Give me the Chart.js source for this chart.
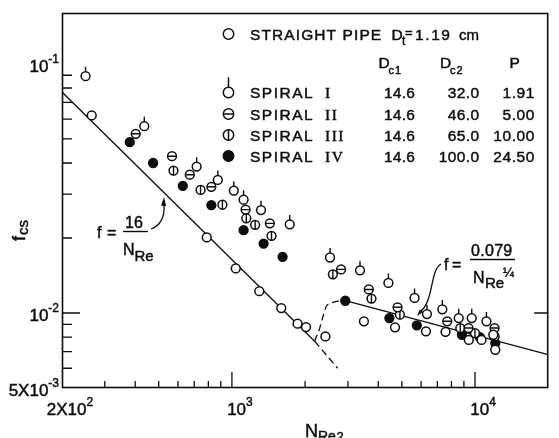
<!DOCTYPE html>
<html>
<head>
<meta charset="utf-8">
<title>Friction factor in spiral coils</title>
<script src="https://cdn.jsdelivr.net/npm/chart.js@4.4.1/dist/chart.umd.min.js"></script>
<style>
  html, body { margin: 0; padding: 0; background: #ffffff; }
  #chart { display: block; }
</style>
</head>
<body>
<canvas id="chart" width="559" height="438"></canvas>
<script>
// Fanning friction factor f_cs against Reynolds number N_Re2 (log-log)

// Straight pipe, D_t = 1.19 cm
const straightRe = [265, 788, 1037, 1296, 1596, 1862, 2018, 2424, 3491, 4688, 6284, 7565, 9428, 10636, 11891, 12116];
const straightF  = [0.0621, 0.0201, 0.0151, 0.01224, 0.01047, 0.00906, 0.00878, 0.00805, 0.00926, 0.00876, 0.00844, 0.0084, 0.0078, 0.0078, 0.00818, 0.00712];

// Spiral I  (Dc1 14.6, Dc2 32.0, P 1.91)
const spiral1Re = [250, 436, 716, 875, 1018, 1117, 1317, 1729, 2533, 3364, 4403, 5641, 6342, 7337, 8568, 9694, 11143];
const spiral1F  = [0.0892, 0.0562, 0.0387, 0.0342, 0.031, 0.0285, 0.0259, 0.0227, 0.0167, 0.01483, 0.0132, 0.0115, 0.0099, 0.01035, 0.00954, 0.00954, 0.00926];

// Spiral II (Dc1 14.6, Dc2 46.0, P 5.00)
const spiral2Re = [402, 567, 671, 823, 1138, 1432, 2812, 3657, 4801, 7686, 9402, 12035];
const spiral2F  = [0.0524, 0.0426, 0.0359, 0.0321, 0.026, 0.0229, 0.01496, 0.01243, 0.01054, 0.00926, 0.0087, 0.0087];

// Spiral III (Dc1 14.6, Dc2 65.0, P 10.00)
const spiral3Re = [575, 743, 914, 1146, 1246, 1455, 2601, 3750, 4909, 8695, 9995, 12035];
const spiral3F  = [0.0373, 0.0312, 0.0272, 0.024, 0.0226, 0.0204, 0.01429, 0.01143, 0.00985, 0.0087, 0.0083, 0.00805];

// Spiral IV (Dc1 14.6, Dc2 100.0, P 24.50)
const spiral4Re = [380, 474, 628, 823, 1117, 1350, 1616, 2926, 4444, 5763, 8835, 10471, 12116];
const spiral4F  = [0.0485, 0.04, 0.0324, 0.0271, 0.0215, 0.019, 0.0168, 0.0112, 0.00954, 0.00892, 0.00818, 0.008, 0.00757];

// Correlation lines: laminar f = 16/N_Re, turbulent f = 0.079/N_Re^(1/4)
const laminarRe = [200, 2190];
const laminarF  = [0.0771, 0.0077];
const laminarExtRe = [2190, 2724];
const laminarExtF  = [0.0077, 0.0060];
const transitionRe = [2190, 2229, 2262, 2371, 2447, 2563, 2724, 2926];
const transitionF  = [0.0077, 0.00806, 0.0083, 0.0097, 0.01064, 0.01097, 0.01115, 0.0112];
const turbulentRe = [2926, 20000];
const turbulentF  = [0.0112, 0.0068];

// Axis ticks and labels
const xMinorTicks = [300, 400, 500, 600, 700, 800, 900, 2000, 3000, 4000, 5000, 6000, 7000, 8000, 9000];
const xMajorTicks = [1000, 10000];
const yMinorTicks = [0.006, 0.007, 0.008, 0.009, 0.02, 0.03, 0.04, 0.05, 0.06, 0.07, 0.08, 0.09];
const yMajorTicks = [0.01];
const xLabelValues = [200, 1000, 10000];
const xLabelBases  = ['2X10', '10', '10'];
const xLabelExps   = ['2', '3', '4'];
const yLabelValues = [0.1, 0.01, 0.005];
const yLabelBases  = ['10', '10', '5X10'];
const yLabelExps   = ['-1', '-2', '-3'];

// Legend table
const legendNumerals = ['I', 'II', 'III', 'IV'];
const legendDc1 = ['14.6', '14.6', '14.6', '14.6'];
const legendDc2 = ['32.0', '46.0', '65.0', '100.0'];
const legendP   = ['1.91', '5.00', '10.00', '24.50'];

const INK = '#0d0d0d';
const SANS = '"Liberation Sans", Arial, sans-serif';
const SERIF = '"Liberation Serif", "Times New Roman", serif';
const R = 4.4;

function pts(xs, ys) { return xs.map((x, i) => ({ x: x, y: ys[i] })); }

// Open or filled circle marks
function circleSet(label, xs, ys, filled) {
  return {
    label: label, data: pts(xs, ys), showLine: false,
    pointStyle: 'circle', pointRadius: R, pointHoverRadius: R,
    pointBorderWidth: 1.5, pointBorderColor: INK,
    pointBackgroundColor: filled ? INK : '#ffffff'
  };
}

// Stroke-only overlays: a bar through the circle or a tick above it
function strokeSet(label, xs, ys, style, radius, rotation) {
  return {
    label: label, data: pts(xs, ys), showLine: false,
    pointStyle: style, pointRadius: radius, pointHoverRadius: radius,
    pointRotation: rotation, pointBorderWidth: 1.4, pointBorderColor: INK,
    pointBackgroundColor: 'rgba(0,0,0,0)'
  };
}

function lineSet(label, xs, ys, dashed, smooth) {
  return {
    label: label, data: pts(xs, ys), showLine: true, pointRadius: 0,
    borderColor: INK, borderWidth: 1.3, borderDash: dashed ? [7, 4] : [],
    cubicInterpolationMode: smooth ? 'monotone' : 'default', tension: 0
  };
}

function drawMark(ctx, kind, x, y, r, tickLen) {
  ctx.save();
  ctx.lineWidth = 1.5;
  ctx.strokeStyle = INK;
  if (kind === 'tick') {
    ctx.beginPath(); ctx.moveTo(x, y - r); ctx.lineTo(x, y - r - tickLen); ctx.stroke();
  }
  ctx.fillStyle = kind === 'filled' ? INK : '#ffffff';
  ctx.beginPath(); ctx.arc(x, y, r, 0, Math.PI * 2); ctx.fill(); ctx.stroke();
  ctx.beginPath();
  if (kind === 'hbar') { ctx.moveTo(x - r, y); ctx.lineTo(x + r, y); }
  if (kind === 'vbar') { ctx.moveTo(x, y - r); ctx.lineTo(x, y + r); }
  ctx.stroke();
  ctx.restore();
}

// Text with a hairline outline so the glyphs carry the weight of printed lettering
function txt(ctx, s, x, y, font, align, spacing) {
  ctx.font = font;
  ctx.textAlign = align || 'left';
  ctx.textBaseline = 'alphabetic';
  ctx.letterSpacing = (spacing || 0) + 'px';
  ctx.fillText(s, x, y);
  ctx.lineWidth = 0.45;
  ctx.strokeText(s, x, y);
  ctx.letterSpacing = '0px';
}

function textWidth(ctx, s, font, spacing) {
  ctx.font = font;
  ctx.letterSpacing = (spacing || 0) + 'px';
  const w = ctx.measureText(s).width;
  ctx.letterSpacing = '0px';
  return w;
}

function powLabel(ctx, base, exp, x, y, anchor) {
  const fb = '17px ' + SANS, fe = '12px ' + SANS;
  const wb = textWidth(ctx, base, fb), we = textWidth(ctx, exp, fe);
  const total = wb + we;
  const left = anchor === 'right' ? x - total : anchor === 'center' ? x - total / 2 : x;
  txt(ctx, base, left, y, fb);
  txt(ctx, exp, left + wb, y - 9, fe);
}

function arrowHead(ctx, tipX, tipY, angle, len, wid) {
  ctx.save();
  ctx.translate(tipX, tipY);
  ctx.rotate(angle);
  ctx.beginPath();
  ctx.moveTo(0, 0);
  ctx.lineTo(-len, -wid / 2);
  ctx.lineTo(-len, wid / 2);
  ctx.closePath();
  ctx.fill();
  ctx.restore();
}

const paperAxes = {
  id: 'paperAxes',
  beforeDatasetsDraw(chart) {
    const ctx = chart.ctx, a = chart.chartArea;
    const xs = chart.scales.x, ys = chart.scales.y;
    ctx.save();
    ctx.strokeStyle = INK;
    ctx.lineWidth = 1.6;
    ctx.strokeRect(a.left + 0.5, a.top + 0.5, a.right - a.left - 1, a.bottom - a.top - 1);
    ctx.lineWidth = 1.3;
    ctx.beginPath();
    xMinorTicks.forEach(v => { const px = xs.getPixelForValue(v); ctx.moveTo(px, a.bottom); ctx.lineTo(px, a.bottom - 7); });
    xMajorTicks.forEach(v => { const px = xs.getPixelForValue(v); ctx.moveTo(px, a.bottom); ctx.lineTo(px, a.bottom - 16); });
    yMinorTicks.forEach(v => { const py = ys.getPixelForValue(v); ctx.moveTo(a.left, py); ctx.lineTo(a.left + 10, py); });
    yMajorTicks.forEach(v => {
      const py = ys.getPixelForValue(v);
      ctx.moveTo(a.left, py); ctx.lineTo(a.left + 18, py);
      ctx.moveTo(a.right, py); ctx.lineTo(a.right - 14, py);
    });
    ctx.stroke();
    ctx.restore();
  },
  afterDraw(chart) {
    const ctx = chart.ctx, a = chart.chartArea;
    const xs = chart.scales.x, ys = chart.scales.y;
    ctx.save();
    ctx.fillStyle = INK;
    ctx.strokeStyle = INK;

    // tick labels
    xLabelValues.forEach((v, i) => powLabel(ctx, xLabelBases[i], xLabelExps[i], xs.getPixelForValue(v) + 8, a.bottom + 27, 'center'));
    yLabelValues.forEach((v, i) => powLabel(ctx, yLabelBases[i], yLabelExps[i], a.left - 3, ys.getPixelForValue(v) + 8, 'right'));

    // axis titles
    txt(ctx, 'N', 305, 437, '18px ' + SANS);
    txt(ctx, 'Re', 318, 441, '14px ' + SANS);
    txt(ctx, '2', 336.5, 441, '13px ' + SANS);
    ctx.save();
    ctx.translate(25, 241);
    ctx.rotate(-Math.PI / 2);
    txt(ctx, 'f', 0, 0, '18px ' + SANS);
    txt(ctx, 'cs', 6, 3, '15px ' + SANS);
    ctx.restore();

    // legend
    drawMark(ctx, 'open', 228.5, 34, 5.2, 0);
    ctx.fillStyle = INK; ctx.strokeStyle = INK;
    txt(ctx, 'STRAIGHT PIPE', 250, 39.5, '15.5px ' + SANS, 'left', 1.1);
    txt(ctx, 'D', 391.5, 39.5, '15.5px ' + SANS);
    txt(ctx, 't', 402, 45, '12px ' + SANS);
    txt(ctx, '=', 405, 37, '13px ' + SANS);
    txt(ctx, '1.19', 415, 39.5, '15.5px ' + SANS, 'left', 1.6);
    txt(ctx, 'cm', 459, 39.5, '15px ' + SANS);

    txt(ctx, 'D', 378.5, 68, '15.5px ' + SANS);
    txt(ctx, 'c1', 388.5, 74, '11px ' + SANS, 'left', 1);
    txt(ctx, 'D', 440, 68, '15.5px ' + SANS);
    txt(ctx, 'c2', 450, 74, '11px ' + SANS, 'left', 1);
    txt(ctx, 'P', 509.5, 68, '15.5px ' + SANS);

    const legendKinds = ['tick', 'hbar', 'vbar', 'filled'];
    const rowBase = [98, 119.5, 140.5, 161.5];
    rowBase.forEach((b, i) => {
      drawMark(ctx, legendKinds[i], 228.5, b - 5.5, 5.2, 10);
      txt(ctx, 'SPIRAL', 250, b, '15.5px ' + SANS, 'left', 1.5);
      txt(ctx, legendNumerals[i], 325, b, '15.5px ' + SERIF, 'left', 1.5);
      txt(ctx, legendDc1[i], 415, b, '15.5px ' + SANS, 'right', 0.2);
      txt(ctx, legendDc2[i], 479.5, b, '15.5px ' + SANS, 'right', 0.4);
      txt(ctx, legendP[i], 535, b, '15.5px ' + SANS, 'right', 0.6);
    });

    // laminar annotation f = 16 / N_Re
    txt(ctx, 'f', 97, 238, '16px ' + SANS);
    txt(ctx, '=', 107, 238, '16px ' + SANS);
    txt(ctx, '16', 125, 228, '16px ' + SANS);
    ctx.lineWidth = 1.4;
    ctx.beginPath(); ctx.moveTo(123, 231.5); ctx.lineTo(148, 231.5); ctx.stroke();
    txt(ctx, 'N', 123, 255, '16px ' + SANS);
    txt(ctx, 'Re', 134.5, 261, '15px ' + SANS);
    ctx.lineWidth = 1.3;
    ctx.beginPath();
    ctx.moveTo(151, 229);
    ctx.bezierCurveTo(160, 226, 165, 217, 164, 205);
    ctx.stroke();
    arrowHead(ctx, 164, 197, -Math.PI / 2 + 0.05, 9, 5);

    // turbulent annotation f = 0.079 / N_Re^(1/4)
    txt(ctx, 'f', 444, 270, '16px ' + SANS);
    txt(ctx, '=', 452, 270, '16px ' + SANS);
    txt(ctx, '0.079', 471, 256, '16px ' + SANS, 'left', 0.3);
    ctx.lineWidth = 1.4;
    ctx.beginPath(); ctx.moveTo(470, 259.5); ctx.lineTo(515, 259.5); ctx.stroke();
    txt(ctx, 'N', 473, 283, '16px ' + SANS);
    txt(ctx, 'Re', 485, 288, '15px ' + SANS);
    txt(ctx, '\u00BC', 503, 277, '13px ' + SANS);
    ctx.lineWidth = 1.3;
    ctx.beginPath();
    ctx.moveTo(441, 264);
    ctx.bezierCurveTo(430, 270, 434, 300, 421, 311);
    ctx.stroke();
    arrowHead(ctx, 417, 316, Math.PI * 0.72, 7, 4);

    ctx.restore();
  }
};

new Chart(document.getElementById('chart'), {
  type: 'scatter',
  data: {
    // the first dataset is painted last, so marks are listed top layer first
    datasets: [
      circleSet('Straight pipe', straightRe, straightF, false),
      circleSet('Spiral I', spiral1Re, spiral1F, false),
      strokeSet('Spiral II bar', spiral2Re, spiral2F, 'line', R, 0),
      circleSet('Spiral II', spiral2Re, spiral2F, false),
      strokeSet('Spiral III bar', spiral3Re, spiral3F, 'line', R, 90),
      circleSet('Spiral III', spiral3Re, spiral3F, false),
      circleSet('Spiral IV', spiral4Re, spiral4F, true),
      strokeSet('Spiral I tick', spiral1Re, spiral1F, 'dash', R + 5, -90),
      lineSet('f = 16/N_Re', laminarRe, laminarF, false, false),
      lineSet('laminar extension', laminarExtRe, laminarExtF, true, false),
      lineSet('transition', transitionRe, transitionF, true, true),
      lineSet('f = 0.079/N_Re^1/4', turbulentRe, turbulentF, false, false)
    ]
  },
  options: {
    responsive: false,
    animation: false,
    devicePixelRatio: 1,
    layout: { padding: { left: 62, top: 13, right: 1, bottom: 50 } },
    plugins: { legend: { display: false }, tooltip: { enabled: false } },
    scales: {
      x: { type: 'logarithmic', min: 200, max: 20000, display: false },
      y: { type: 'logarithmic', min: 0.005, max: 0.16, display: false }
    }
  },
  plugins: [paperAxes]
});
</script>
</body>
</html>
